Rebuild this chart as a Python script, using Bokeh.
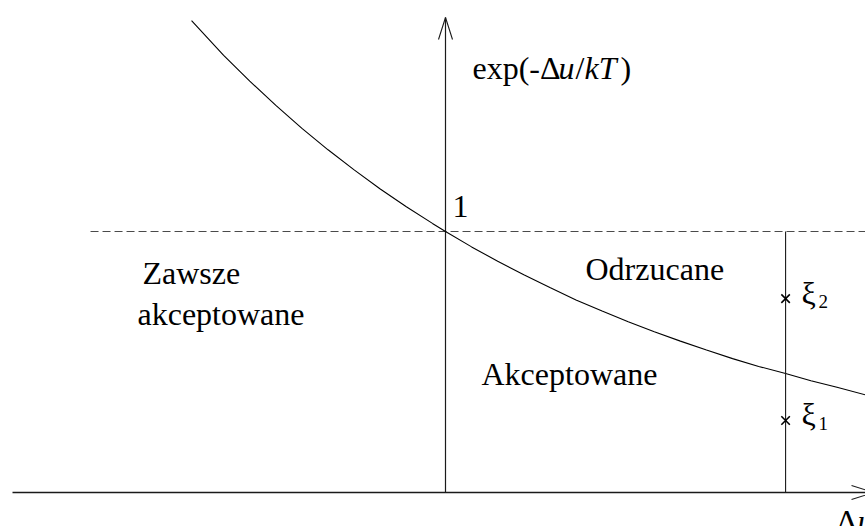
from bokeh.plotting import figure
from bokeh.models import Range1d, Label
from bokeh.embed import file_html
from bokeh.resources import INLINE

# Metropolis acceptance: curve exp(-du/kT) against the energy change du
du_curve = [-0.973, -0.85, -0.75, -0.65, -0.55, -0.45, -0.35, -0.25, -0.15, -0.05,
            0.0, 0.1, 0.2, 0.3, 0.4, 0.5, 0.6, 0.7, 0.8, 0.9,
            1.0, 1.1, 1.2, 1.303, 1.4, 1.5, 1.609]
acc_curve = [1.808, 1.675, 1.576, 1.483, 1.395, 1.313, 1.236, 1.163, 1.095, 1.031,
             1.0, 0.941, 0.886, 0.834, 0.785, 0.738, 0.695, 0.654, 0.616, 0.580,
             0.546, 0.513, 0.483, 0.456, 0.428, 0.403, 0.374]

# a trial move with du > 0 and two random numbers drawn on [0, 1]
du_trial = 1.303
xi_values = [0.276, 0.743]
xi_names = ["1", "2"]

region_labels = ["Zawsze", "akceptowane", "Odrzucane", "Akceptowane"]

# axis extents
x_axis_span = [-1.659, 1.640]
y_axis_span = [0.0, 1.820]
level_one_span = [-1.360, 1.640]

# drawing scale: pixels per unit and the pixel position of the origin
W, H = 865, 526
SCALE = 261.0
OX, OY = 445.0, 492.0


def px2x(px):
    return (px - OX) / SCALE


def py2y(py):
    return (OY - py) / SCALE


p = figure(width=W, height=H, output_backend="svg", toolbar_location=None,
           x_axis_type=None, y_axis_type=None,
           x_range=Range1d(px2x(0), px2x(W)), y_range=Range1d(py2y(H), py2y(0)),
           min_border=0, min_border_left=0, min_border_right=0,
           min_border_top=0, min_border_bottom=0)
p.grid.visible = False
p.outline_line_color = None
p.background_fill_color = "white"
p.border_fill_color = "white"

INK = "#1a1a1a"

# axes
p.line(x_axis_span, [0, 0], line_color=INK, line_width=1.4)
p.line([0, 0], y_axis_span, line_color=INK, line_width=1.2)

# open arrow heads (22 px long, 14 px wide)
hl, hw = 22 / SCALE, 7 / SCALE
xt = x_axis_span[1]
p.line([xt - hl, xt, xt - hl], [hw, 0, -hw], line_color=INK, line_width=1.1)
yt = y_axis_span[1]
p.line([-hw, 0, hw], [yt - hl, yt, yt - hl], line_color=INK, line_width=1.1)

# level exp(...) = 1
p.line(level_one_span, [1, 1], line_color="#4a4a4a", line_width=1, line_dash="8 4")

# acceptance curve
p.line(du_curve, acc_curve, line_color="black", line_width=1.1)

# vertical line at the trial du
p.line([du_trial, du_trial], [0, 1], line_color=INK, line_width=1.1)

# random numbers
p.scatter([du_trial] * len(xi_values), xi_values, marker="x", size=12,
          line_color="black", line_width=1.6)

FONT = "Liberation Serif"
FS = "32px"
LIFT = 9  # baseline correction in pixels


def put(text, px, py, size=FS, style="normal"):
    p.add_layout(Label(x=px2x(px), y=py2y(py - LIFT), text=text, text_font=FONT,
                       text_font_size=size, text_font_style=style,
                       text_color="black", text_baseline="alphabetic",
                       text_align="left"))


# y axis title: exp(-Δu/kT)
put("exp(-\u0394", 472, 76)
put("u", 558, 76, style="italic")
put("/", 575, 76)
put("kT", 584, 76, style="italic")
put(")", 620, 76)

# x axis title: Δu
put("\u0394", 836, 529)
put("u", 857, 529, style="italic")

put("1", 452, 215)

put(region_labels[0], 142, 281)
put(region_labels[1], 137, 322)
put(region_labels[2], 585, 277)
put(region_labels[3], 481, 382)

# ξ labels with subscripts
for val, name in zip(xi_values, xi_names):
    base = OY - val * SCALE
    put("\u03be", 801, base + 3)
    put(name, 818, base + 12, size="19px")

open("out.html", "w").write(file_html(p, INLINE))
